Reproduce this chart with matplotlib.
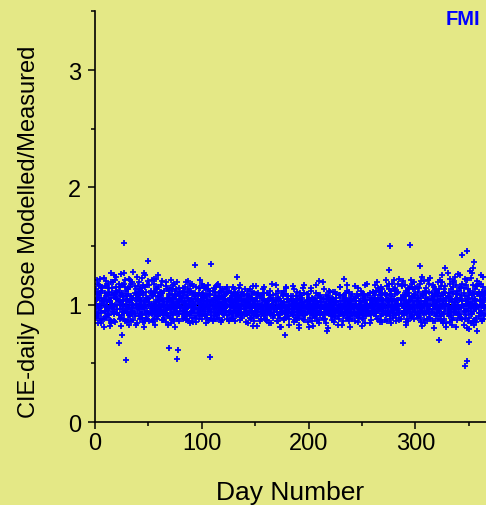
import numpy as np
import matplotlib
matplotlib.use("Agg")
import matplotlib.pyplot as plt
from matplotlib.ticker import MultipleLocator

# daily dose ratio (modelled / measured) x 100, one list per year, day 1..365
ratio_y1 = [
    104, 92, 111, 98, 87, 106, 115, 101, 95, 89, 108, 118, 97, 103, 84, 110, 99, 93, 121, 105,
    96, 112, 88, 102, 117, 94, 153, 107, 53, 99, 114, 91, 105, 86, 119, 100, 93, 109, 124, 97,
    103, 88, 112, 96, 108, 81, 115, 99, 106, 137, 92, 110, 101, 87, 118, 95, 104, 113, 90, 107,
    99, 111, 94, 105, 89, 116, 102, 97, 63, 108, 93, 113, 100, 86, 107, 98, 119, 61, 104, 95,
    110, 92, 101, 115, 96, 88, 106, 103, 91, 112, 99, 85, 108, 134, 97, 104, 114, 93, 100, 109,
    95, 107, 90, 113, 102, 98, 87, 55, 135, 104, 96, 111, 93, 106, 100, 89, 115, 99, 105, 92,
    108, 97, 103, 91, 112, 100, 94, 106, 88, 109, 98, 104, 93, 110, 101, 96, 107, 90, 102, 113,
    97, 92, 104, 99, 89, 106, 95, 101, 110, 93, 98, 103, 91, 107, 96, 100, 94, 105, 88, 99,
    102, 95, 97, 108, 93, 100, 90, 104, 96, 99, 106, 92, 98, 103, 94, 101, 87, 97, 109, 95,
    93, 100, 105, 96, 91, 102, 98, 107, 94, 99, 89, 104, 97, 101, 95, 110, 92, 98, 103, 96,
    100, 94, 106, 91, 98, 103, 95, 99, 108, 93, 97, 102, 89, 105, 96, 100, 94, 107, 98, 92,
    104, 97, 93, 101, 96, 109, 90, 99, 103, 95, 98, 106, 92, 100, 97, 104, 94, 111, 96, 99,
    93, 105, 98, 101, 90, 107, 96, 103, 94, 100, 108, 92, 99, 104, 97, 95, 110, 91, 102, 98,
    106, 94, 112, 99, 88, 104, 97, 115, 92, 101, 109, 95, 86, 103, 118, 150, 98, 107, 91, 113,
    100, 93, 110, 96, 87, 105, 116, 99, 91, 108, 102, 94, 113, 97, 151, 89, 106, 100, 119, 95,
    103, 92, 114, 98, 85, 109, 101, 120, 94, 106, 97, 88, 111, 104, 93, 117, 99, 108, 90, 102,
    96, 113, 105, 87, 119, 100, 93, 110, 84, 107, 98, 122, 91, 104, 115, 95, 102, 81, 109, 97,
    112, 89, 105, 118, 94, 48, 101, 146, 86, 108, 97, 123, 92, 110, 83, 104, 116, 99, 90, 107,
    95, 111, 102, 88, 106,
]
ratio_y2 = [
    96, 109, 84, 117, 101, 93, 112, 88, 105, 120, 97, 91, 108, 102, 86, 114, 99, 125, 94, 106,
    111, 67, 100, 89, 74, 107, 118, 95, 103, 85, 113, 98, 121, 92, 104, 87, 110, 101, 96, 116,
    90, 106, 99, 123, 85, 102, 94, 111, 88, 105, 117, 97, 92, 109, 101, 83, 114, 96, 107, 99,
    104, 93, 110, 87, 101, 96, 113, 90, 106, 99, 84, 109, 102, 118, 95, 105, 54, 100, 92, 111,
    97, 107, 89, 103, 119, 94, 100, 86, 110, 98, 105, 116, 93, 101, 90, 108, 96, 121, 102, 88,
    106, 99, 114, 92, 103, 87, 109, 101, 95, 112, 90, 104, 98, 117, 94, 107, 100, 85, 111, 97,
    91, 105, 99, 110, 94, 102, 88, 107, 97, 113, 103, 95, 124, 91, 106, 99, 93, 108, 96, 101,
    104, 98, 93, 107, 100, 95, 111, 92, 99, 103, 90, 106, 97, 101, 94, 108, 96, 91, 102, 99,
    95, 103, 99, 92, 106, 97, 101, 94, 109, 98, 91, 104, 96, 100, 93, 107, 99, 74, 95, 102,
    107, 96, 92, 103, 99, 94, 101, 89, 105, 97, 100, 93, 108, 95, 102, 98, 91, 104, 96, 100,
    93, 101, 97, 105, 90, 99, 103, 95, 100, 120, 94, 106, 98, 92, 101, 96, 78, 99, 104, 95,
    98, 106, 91, 100, 95, 103, 97, 93, 108, 99, 94, 101, 122, 96, 105, 92, 99, 102, 90, 107,
    101, 94, 99, 106, 92, 97, 103, 100, 95, 109, 91, 98, 104, 96, 101, 93, 106, 99, 95, 103,
    92, 108, 101, 95, 114, 99, 87, 106, 103, 97, 110, 91, 104, 98, 130, 93, 112, 100, 89, 105,
    109, 97, 101, 118, 93, 106, 99, 67, 104, 95, 112, 88, 102, 107, 96, 115, 91, 100, 108, 94,
    98, 111, 90, 133, 103, 96, 108, 87, 101, 114, 95, 105, 92, 99, 110, 86, 104, 97, 112, 93,
    107, 70, 99, 116, 92, 103, 88, 131, 101, 95, 110, 85, 105, 98, 119, 93, 102, 109, 87, 100,
    91, 106, 97, 142, 114, 88, 103, 52, 95, 68, 110, 84, 101, 117, 136, 105, 89, 120, 98, 108,
    103, 86, 115, 97, 92,
]
ratio_y3 = [
    113, 99, 90, 106, 122, 95, 103, 81, 110, 98, 116, 92, 104, 87, 119, 101, 94, 108, 85, 112,
    100, 91, 107, 126, 96, 104, 88, 115, 99, 93, 109, 83, 102, 118, 95, 106, 90, 113, 98, 105,
    119, 94, 101, 89, 110, 97, 125, 92, 104, 99, 86, 112, 96, 107, 122, 91, 100, 88, 115, 103,
    95, 108, 120, 91, 100, 85, 106, 97, 112, 89, 103, 99, 117, 94, 81, 108, 101, 92, 114, 98,
    103, 88, 97, 111, 93, 106, 120, 99, 84, 104, 95, 109, 100, 89, 115, 96, 103, 91, 107, 118,
    98, 92, 106, 84, 100, 117, 96, 108, 91, 102, 114, 88, 105, 97, 93, 110, 101, 96, 87, 106,
    102, 113, 95, 99, 86, 106, 101, 93, 115, 97, 104, 90, 100, 108, 95, 87, 103, 111, 98, 92,
    92, 108, 84, 101, 113, 89, 97, 116, 86, 104, 95, 82, 110, 99, 88, 106, 93, 115, 90, 101,
    87, 103, 96, 112, 84, 99, 108, 91, 117, 94, 86, 105, 98, 81, 110, 95, 102, 89, 114, 97,
    105, 88, 99, 93, 116, 85, 102, 96, 111, 90, 83, 107, 98, 92, 114, 87, 100, 109, 94, 81,
    98, 112, 86, 103, 95, 89, 117, 92, 100, 84, 108, 97, 91, 113, 88, 102, 95, 80, 106, 99,
    90, 104, 97, 85, 111, 94, 100, 88, 115, 96, 83, 107, 92, 101, 89, 112, 98, 86, 104, 93,
    109, 91, 86, 103, 97, 114, 89, 100, 93, 82, 106, 98, 117, 90, 95, 108, 84, 101, 96, 111,
    99, 117, 90, 104, 96, 111, 85, 101, 109, 94, 100, 121, 92, 106, 98, 88, 112, 95, 103, 97,
    114, 91, 104, 99, 122, 88, 101, 108, 95, 117, 93, 100, 86, 110, 97, 105, 90, 113, 99, 103,
    91, 106, 99, 118, 95, 82, 109, 100, 112, 93, 104, 121, 96, 89, 107, 101, 115, 92, 99, 110,
    103, 94, 121, 99, 86, 108, 113, 96, 101, 127, 90, 105, 97, 83, 111, 100, 94, 117, 106, 92,
    98, 125, 89, 103, 110, 95, 117, 80, 105, 99, 129, 92, 108, 86, 101, 113, 96, 78, 111, 104,
    118, 93, 100, 109, 97,
]
ratio_y4 = [
    89, 105, 118, 97, 110, 84, 101, 123, 94, 107, 99, 114, 91, 103, 127, 96, 108, 86, 100, 115,
    105, 118, 96, 82, 110, 101, 93, 121, 98, 107, 87, 103, 115, 94, 100, 128, 92, 106, 84, 111,
    97, 113, 104, 91, 117, 100, 86, 106, 95, 120, 102, 93, 108, 85, 111, 98, 122, 90, 104, 96,
    110, 98, 87, 103, 95, 119, 92, 105, 100, 114, 96, 88, 106, 101, 112, 93, 97, 109, 86, 103,
    92, 114, 102, 95, 87, 108, 99, 112, 104, 93, 118, 101, 96, 107, 85, 102, 110, 97, 92, 105,
    110, 101, 96, 107, 89, 113, 99, 94, 103, 86, 100, 108, 115, 91, 105, 97, 102, 112, 95, 98,
    96, 101, 109, 88, 104, 95, 110, 99, 92, 103, 86, 107, 97, 101, 114, 93, 99, 89, 105, 100,
    93, 107, 99, 95, 102, 89, 105, 100, 91, 97, 109, 96, 101, 94, 88, 104, 98, 110, 95, 103,
    100, 96, 108, 93, 99, 104, 91, 97, 102, 94, 106, 99, 89, 103, 97, 100, 112, 92, 98, 105,
    90, 99, 103, 95, 107, 92, 98, 101, 87, 104, 96, 100, 93, 106, 99, 91, 97, 103, 109, 95,
    104, 93, 98, 100, 95, 106, 91, 103, 99, 87, 102, 97, 105, 94, 99, 108, 93, 96, 101, 111,
    94, 100, 105, 97, 89, 102, 96, 108, 93, 101, 99, 91, 104, 97, 110, 95, 100, 88, 103, 98,
    105, 97, 93, 100, 109, 94, 99, 91, 103, 96, 88, 102, 107, 95, 100, 97, 92, 104, 98, 111,
    97, 103, 93, 119, 101, 95, 108, 90, 113, 99, 87, 105, 116, 94, 102, 109, 84, 100, 96, 121,
    103, 86, 99, 111, 95, 104, 92, 120, 98, 107, 83, 101, 96, 114, 90, 103, 118, 94, 88, 109,
    115, 97, 102, 89, 107, 124, 93, 99, 84, 110, 101, 95, 118, 88, 104, 96, 80, 113, 100, 107,
    88, 110, 100, 97, 125, 92, 104, 116, 81, 99, 107, 94, 113, 102, 89, 120, 96, 105, 99, 126,
    104, 92, 114, 100, 83, 107, 96, 121, 101, 89, 112, 97, 106, 131, 95, 100, 85, 109, 118, 93,
    88, 107, 124, 99, 112,
]
ratio_y5 = [
    101, 121, 93, 108, 97, 114, 88, 104, 116, 90, 102, 95, 111, 82, 106, 98, 119, 92, 109, 124,
    93, 103, 115, 108, 91, 99, 127, 86, 112, 104, 96, 122, 90, 107, 100, 97, 116, 83, 103, 109,
    108, 100, 92, 114, 98, 127, 103, 89, 117, 93, 106, 99, 121, 95, 88, 110, 102, 94, 125, 101,
    92, 117, 104, 98, 112, 93, 100, 83, 109, 96, 121, 104, 91, 97, 108, 113, 88, 102, 99, 107,
    106, 95, 111, 90, 101, 98, 113, 92, 117, 100, 89, 103, 97, 110, 105, 94, 88, 114, 101, 96,
    103, 116, 91, 100, 108, 95, 104, 112, 89, 98, 106, 93, 101, 88, 118, 102, 94, 107, 99, 113,
    107, 94, 100, 115, 91, 98, 104, 89, 102, 95, 111, 100, 93, 105, 98, 117, 91, 103, 109, 94,
    85, 101, 112, 93, 97, 88, 109, 82, 104, 95, 116, 90, 99, 86, 107, 94, 113, 91, 100, 87,
    110, 93, 84, 106, 99, 118, 89, 96, 103, 86, 112, 92, 81, 101, 97, 108, 88, 95, 115, 90,
    96, 83, 107, 100, 91, 113, 87, 98, 105, 94, 80, 110, 95, 102, 88, 117, 93, 99, 85, 106,
    89, 114, 95, 82, 103, 98, 110, 86, 94, 107, 91, 100, 119, 88, 96, 84, 105, 93, 112, 97,
    102, 87, 111, 95, 90, 106, 83, 99, 115, 92, 97, 86, 108, 101, 94, 117, 89, 104, 81, 96,
    88, 100, 116, 91, 107, 85, 97, 103, 112, 89, 94, 109, 84, 99, 118, 93, 101, 87, 106, 95,
    110, 94, 101, 88, 106, 99, 112, 96, 85, 104, 97, 108, 93, 101, 113, 90, 105, 118, 98, 93,
    91, 112, 97, 104, 89, 101, 117, 93, 106, 99, 85, 110, 98, 103, 92, 121, 96, 107, 100, 114,
    106, 89, 101, 94, 120, 98, 107, 92, 103, 111, 88, 100, 96, 123, 94, 105, 99, 86, 109, 97,
    119, 95, 90, 107, 101, 84, 111, 99, 106, 92, 103, 118, 96, 87, 109, 100, 124, 93, 112, 98,
    96, 115, 108, 88, 99, 122, 91, 105, 113, 79, 102, 94, 127, 98, 109, 87, 103, 116, 93, 100,
    125, 99, 91, 104, 110,
]
anos = [ratio_y1, ratio_y2, ratio_y3, ratio_y4, ratio_y5]

fundo = '#e4e886'
plt.rcParams['font.family'] = ['Liberation Sans', 'DejaVu Sans']

fig = plt.figure(figsize=(4.86, 5.06), dpi=100, facecolor=fundo)
ax = fig.add_axes([0.1955, 0.164, 0.8045, 0.8115])
ax.set_facecolor(fundo)

# linha de referencia em 1 (fica por baixo dos pontos)
ax.axhline(1.0, color='black', lw=1.5, zorder=1)

for serie in anos:
    dias = np.arange(1, len(serie) + 1)
    ax.plot(dias, np.array(serie) / 100.0, ls='none', marker='+', ms=4.3,
            mew=1.3, color='#0000ff', zorder=2)

ax.set_xlim(0, 366)
ax.set_ylim(0, 3.5)
ax.xaxis.set_major_locator(MultipleLocator(100))
ax.xaxis.set_minor_locator(MultipleLocator(50))
ax.yaxis.set_major_locator(MultipleLocator(1))
ax.yaxis.set_minor_locator(MultipleLocator(0.5))

for lado in ['top', 'right']:
    ax.spines[lado].set_visible(False)
for lado in ['left', 'bottom']:
    ax.spines[lado].set_linewidth(1.2)

ax.tick_params(which='major', direction='out', length=5, width=1.1,
               labelsize=17)
ax.tick_params(which='minor', direction='out', length=3, width=1.1)
ax.tick_params(axis='x', which='major', pad=2)
ax.tick_params(axis='y', which='major', pad=5)

ax.set_xlabel('Day Number', fontsize=19)
ax.set_ylabel('CIE-daily Dose Modelled/Measured', fontsize=17)
# posicao dos titulos dos eixos em coordenadas do eixo
ax.xaxis.set_label_coords(0.5, -0.14)
ax.yaxis.set_label_coords(-0.14, 0.465)

fig.text(0.988, 0.98, 'FMI', color='#0000ff', fontsize=14.5,
         fontweight='bold', ha='right', va='top')

fig.savefig('out.png', dpi=100, facecolor=fundo)
